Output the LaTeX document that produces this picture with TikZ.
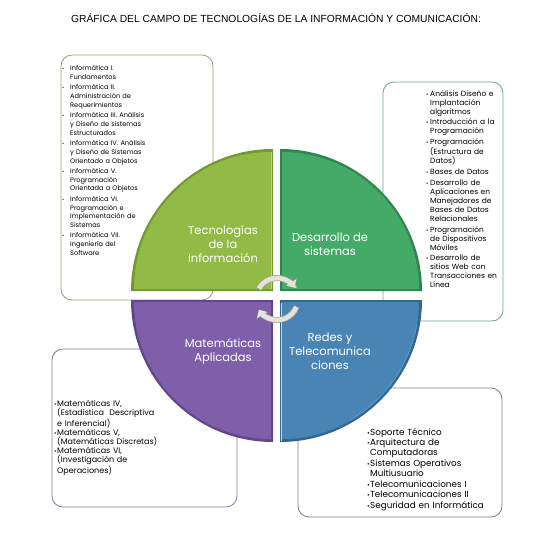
\documentclass[tikz,border=0pt]{standalone}
\usepackage{fontspec}
\setmainfont{Poppins}
\newfontfamily\titlefont{Liberation Sans}
\usetikzlibrary{arrows.meta}

% quadrant colours (main fill and bevel edge)
\definecolor{tiMain}{RGB}{146,186,70}
\definecolor{tiEdge}{RGB}{116,152,50}
\definecolor{dsMain}{RGB}{68,170,104}
\definecolor{dsEdge}{RGB}{48,132,78}
\definecolor{maMain}{RGB}{127,94,170}
\definecolor{maEdge}{RGB}{98,70,136}
\definecolor{rtMain}{RGB}{74,132,180}
\definecolor{rtEdge}{RGB}{52,102,144}
% list box outlines
\definecolor{tiLine}{RGB}{150,162,110}
\definecolor{dsLine}{RGB}{110,168,132}
\definecolor{maLine}{RGB}{135,120,155}
\definecolor{rtLine}{RGB}{120,126,136}
\definecolor{cycFill}{RGB}{228,228,218}
\definecolor{cycEdge}{RGB}{168,168,158}

% bulleted entry with hanging indent; \nl breaks a line inside an entry
\newlength\bulind
\newcommand\bit[1]{\par\hangindent=\bulind\hangafter=1\noindent\hbox to\bulind{\scalebox{0.75}{\textbullet}\hss}#1}
\newcommand\nl{\newline}

\tikzset{
  listbox/.style={draw=#1, line width=0.8pt, fill=white, rounded corners=11pt},
  listtext/.style={anchor=north west, inner sep=0pt, text width=160pt, text=black},
  quadlabel/.style={text=white, align=center, inner sep=0pt,
    font=\fontsize{11.5}{14}\selectfont},
  cycarrow/.style={line width=4.5pt, draw=cycFill,
    -{Triangle[length=6pt,width=11pt]}},
  cycshadow/.style={line width=6pt, draw=cycEdge,
    -{Triangle[length=7pt,width=13pt]}},
}

\begin{document}
\begin{tikzpicture}[x=1pt,y=-1pt]
\useasboundingbox (0,0) rectangle (552,547);

% title
\node[font=\titlefont\fontsize{10.3}{12}\selectfont] (title) at (276,18)
  {GRÁFICA DEL CAMPO DE TECNOLOGÍAS DE LA INFORMACIÓN Y COMUNICACIÓN:};

% list boxes behind the circle
\draw[listbox=tiLine] (61,55) rectangle (213,300);
\draw[listbox=dsLine] (383,82) rectangle (503,321);
\draw[listbox=maLine] (52,349) rectangle (237,507);
\draw[listbox=rtLine] (298,388) rectangle (502,517);

% quadrants: bevel rim, then the face
\fill[tiEdge] (273,291) -- (131,291) arc[start angle=180,end angle=270,radius=142] -- cycle;
\fill[tiMain] (271,289) -- (134,289) arc[start angle=180,end angle=270,radius=137] -- cycle;
\fill[dsEdge] (280,291) -- (280,149) arc[start angle=270,end angle=360,radius=142] -- cycle;
\fill[dsMain] (282,289) -- (282,152) arc[start angle=270,end angle=360,radius=137] -- cycle;
\fill[rtEdge] (280,300) -- (422,300) arc[start angle=0,end angle=90,radius=142] -- cycle;
\fill[rtMain] (282,302) -- (419,302) arc[start angle=0,end angle=90,radius=137] -- cycle;
\fill[maEdge] (273,300) -- (273,442) arc[start angle=90,end angle=180,radius=142] -- cycle;
\fill[maMain] (271,302) -- (271,439) arc[start angle=90,end angle=180,radius=137] -- cycle;
% light rims
\draw[line width=1.4pt, yellow!55!tiMain] (271.5,152) -- (271.5,289);
\draw[line width=1.2pt, cyan!35!white] (281.5,303) -- (281.5,441);
\draw[line width=0.8pt, cyan!40!rtMain] ([shift={(10:139)}]280,300) arc[start angle=10,end angle=60,radius=139];

% quadrant labels
\node[quadlabel] (ti) at (223,244) {Tecnologías\\de la\\Información};
\node[quadlabel] (ds) at (330,244) {Desarrollo de\\sistemas};
\node[quadlabel] (ma) at (223,351) {Matemáticas\\Aplicadas};
\node[quadlabel] (rt) at (330,351) {Redes y\\Telecomunica\\ciones};

% cycle arrows in the middle
\coordinate (hub) at (277,299);
\draw[cycshadow] ([shift={(-150:21)}]hub) arc[start angle=-150,end angle=-32,radius=21];
\draw[cycarrow]  ([shift={(-150:21)}]hub) arc[start angle=-150,end angle=-33,radius=21];
\draw[cycshadow] ([shift={(22:21)}]hub) arc[start angle=22,end angle=150,radius=21];
\draw[cycarrow]  ([shift={(22:21)}]hub) arc[start angle=22,end angle=149,radius=21];

% lists
\node[listtext, font=\fontsize{6.6}{8.8}\selectfont] (tiList) at (62,60)
{\raggedright\setlength\bulind{8pt}\setlength\parskip{1.5pt}%
\bit{Informática I.\nl Fundamentos}
\bit{Informática II.\nl Administración de\nl Requerimientos}
\bit{Informática III. Análisis\nl y Diseño de sistemas\nl Estructurados}
\bit{Informática IV. Análisis\nl y Diseño de Sistemas\nl Orientado a Objetos}
\bit{Informática V.\nl Programación\nl Orientada a Objetos}
\bit{Informática VI.\nl Programación e\nl Implementación de\nl Sistemas}
\bit{Informática VII.\nl Ingeniería del\nl Software}\par};

\node[listtext, font=\fontsize{7.5}{9}\selectfont] (dsList) at (426,85)
{\raggedright\setlength\bulind{4pt}\setlength\parskip{1.8pt}%
\bit{Análisis Diseño e\nl Implantación\nl algoritmos}
\bit{Introducción a la\nl Programación}
\bit{Programación\nl (Estructura de\nl Datos)}
\bit{Bases de Datos}
\bit{Desarrollo de\nl Aplicaciones en\nl Manejadores de\nl Bases de Datos\nl Relacionales}
\bit{Programación\nl de Dispositivos\nl Móviles}
\bit{Desarrollo de\nl sitios Web con\nl Transacciones en\nl Línea}\par};

\node[listtext, font=\fontsize{8}{9.2}\selectfont] (maList) at (54,397)
{\raggedright\setlength\bulind{3pt}\setlength\parskip{0pt}%
\bit{Matemáticas IV,\nl (Estadística\ \ Descriptiva\nl e Inferencial)}
\bit{Matemáticas V,\nl (Matemáticas Discretas)}
\bit{Matemáticas VI,\nl (Investigación de\nl Operaciones)}\par};

\node[listtext, font=\fontsize{8.8}{9.8}\selectfont] (rtList) at (367,424)
{\raggedright\setlength\bulind{3pt}\setlength\parskip{1pt}%
\bit{Soporte Técnico}
\bit{Arquitectura de\nl Computadoras}
\bit{Sistemas Operativos\nl Multiusuario}
\bit{Telecomunicaciones I}
\bit{Telecomunicaciones II}
\bit{Seguridad en Informática}\par};
\end{tikzpicture}
\end{document}
